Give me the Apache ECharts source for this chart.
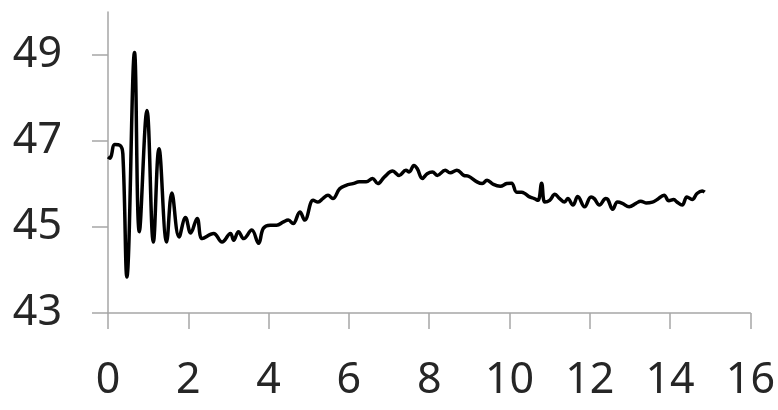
<!DOCTYPE html>
<html>
<head>
<meta charset="utf-8">
<script src="https://cdn.jsdelivr.net/npm/echarts@6/dist/echarts.min.js"></script>
<style>html,body{margin:0;padding:0;background:#fff}#c{width:778px;height:410px}</style>
</head>
<body>
<div id="c"></div>
<script>
var xTicks = [0, 2, 4, 6, 8, 10, 12, 14, 16];
var yTicks = [43, 45, 47, 49];
var xs = [0, 0.05, 0.17, 0.3, 0.37, 0.47, 0.66, 0.78, 0.97, 1.13, 1.27, 1.46, 1.59, 1.77, 1.93, 2.06, 2.22, 2.35, 2.63, 2.84, 3.05, 3.13, 3.25, 3.38, 3.58, 3.75, 3.87, 4.04, 4.2, 4.37, 4.49, 4.61, 4.78, 4.9, 5.11, 5.23, 5.35, 5.48, 5.6, 5.77, 5.93, 6.1, 6.26, 6.43, 6.59, 6.72, 6.88, 7.09, 7.25, 7.42, 7.5, 7.62, 7.7, 7.83, 7.95, 8.08, 8.2, 8.4, 8.52, 8.69, 8.86, 8.98, 9.19, 9.32, 9.44, 9.6, 9.77, 9.93, 10.05, 10.18, 10.3, 10.38, 10.5, 10.62, 10.71, 10.8, 10.88, 11.0, 11.13, 11.25, 11.37, 11.45, 11.58, 11.7, 11.87, 12.03, 12.11, 12.24, 12.4, 12.45, 12.57, 12.69, 12.81, 12.98, 13.15, 13.27, 13.4, 13.56, 13.68, 13.85, 13.97, 14.09, 14.17, 14.3, 14.42, 14.55, 14.67, 14.8, 14.86];
var ys = [46.63, 46.6, 46.92, 46.9, 46.7, 43.84, 49.06, 44.89, 47.71, 44.65, 46.82, 44.65, 45.79, 44.77, 45.22, 44.86, 45.2, 44.73, 44.85, 44.65, 44.85, 44.69, 44.89, 44.73, 44.93, 44.62, 44.97, 45.04, 45.04, 45.12, 45.16, 45.08, 45.35, 45.16, 45.62, 45.58, 45.66, 45.74, 45.66, 45.89, 45.97, 46.01, 46.05, 46.05, 46.13, 46.01, 46.16, 46.3, 46.2, 46.32, 46.28, 46.43, 46.36, 46.13, 46.24, 46.28, 46.2, 46.32, 46.26, 46.32, 46.2, 46.18, 46.05, 46.01, 46.09, 45.99, 45.95, 46.01, 46.02, 45.81, 45.81, 45.78, 45.7, 45.66, 45.62, 46.02, 45.58, 45.62, 45.76, 45.66, 45.58, 45.66, 45.51, 45.71, 45.47, 45.7, 45.66, 45.51, 45.66, 45.64, 45.41, 45.58, 45.55, 45.47, 45.55, 45.6, 45.56, 45.58, 45.64, 45.74, 45.61, 45.64, 45.58, 45.51, 45.7, 45.64, 45.78, 45.84, 45.81];

var data = xs.map(function (x, i) { return [x, ys[i]]; });
var axisColor = '#a6a6a6';
var labelFont = { color: '#262626', fontSize: 43, fontFamily: 'Noto Sans' };

var chart = echarts.init(document.getElementById('c'), null, { renderer: 'canvas' });
chart.setOption({
  animation: false,
  backgroundColor: '#ffffff',
  grid: { left: 108, right: 23, top: 12, bottom: 97, containLabel: false },
  xAxis: {
    type: 'value', min: 0, max: 16, interval: 2,
    axisLine: { show: true, lineStyle: { color: axisColor, width: 1.5 } },
    axisTick: { show: true, length: 16, lineStyle: { color: axisColor, width: 1.5 } },
    splitLine: { show: false },
    axisLabel: Object.assign({ margin: 46, showMaxLabel: true, showMinLabel: true }, labelFont)
  },
  yAxis: {
    type: 'value', min: 43, max: 50,
    axisLine: { show: true, lineStyle: { color: axisColor, width: 1.5 } },
    axisTick: { show: true, length: 16, customValues: yTicks, lineStyle: { color: axisColor, width: 1.5 } },
    splitLine: { show: false },
    axisLabel: Object.assign({ margin: 46, customValues: yTicks }, labelFont)
  },
  series: [{
    type: 'line',
    data: data,
    smooth: 0.4,
    showSymbol: false,
    lineStyle: { color: '#000000', width: 3.5 }
  }]
});
</script>
</body>
</html>
